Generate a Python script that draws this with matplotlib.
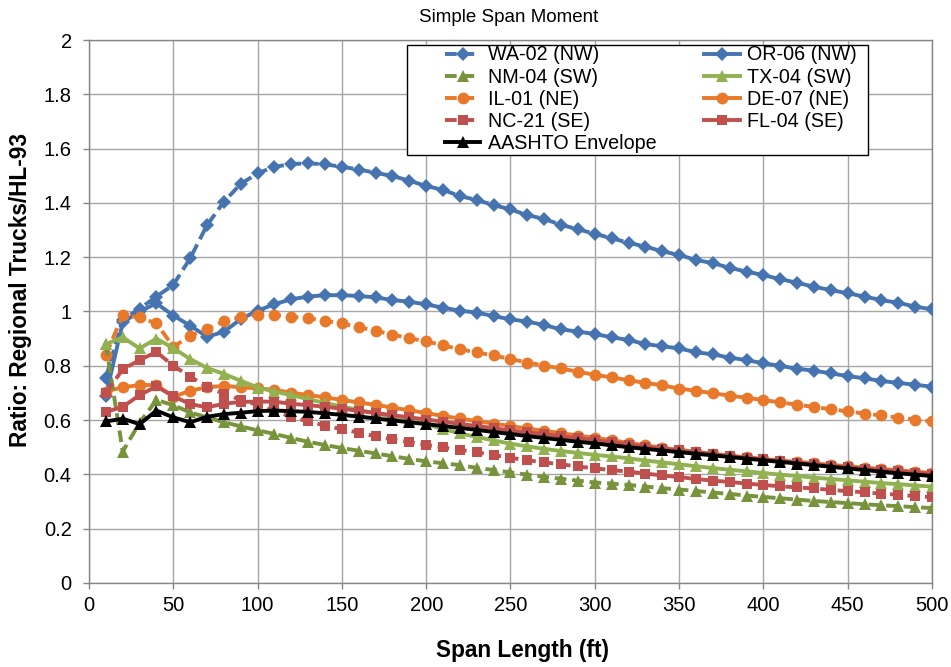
import numpy as np
import matplotlib
matplotlib.use('Agg')
import matplotlib.pyplot as plt
from matplotlib.patches import Rectangle

plt.rcParams['font.family'] = ['Liberation Sans', 'DejaVu Sans']

# span lengths (ft)
span = list(range(10, 510, 10))

wa02 = [0.755, 0.97, 1.01, 1.055, 1.098, 1.196, 1.318, 1.404, 1.47, 1.509,
        1.533, 1.543, 1.546, 1.542, 1.533, 1.523, 1.511, 1.499, 1.482, 1.462,
        1.448, 1.425, 1.411, 1.392, 1.376, 1.355, 1.341, 1.319, 1.303, 1.286,
        1.27, 1.253, 1.239, 1.222, 1.208, 1.19, 1.178, 1.161, 1.147, 1.134,
        1.119, 1.106, 1.091, 1.079, 1.067, 1.055, 1.042, 1.032, 1.018, 1.008]
or06 = [0.69, 0.96, 1.0, 1.03, 0.985, 0.948, 0.907, 0.925, 0.972, 1.003,
        1.027, 1.045, 1.055, 1.06, 1.06, 1.057, 1.052, 1.042, 1.036, 1.026,
        1.014, 1.003, 0.996, 0.983, 0.971, 0.963, 0.95, 0.934, 0.926, 0.917,
        0.905, 0.895, 0.88, 0.872, 0.864, 0.85, 0.842, 0.83, 0.821, 0.809,
        0.8, 0.789, 0.782, 0.772, 0.762, 0.754, 0.744, 0.737, 0.73, 0.723]
nm04 = [0.88, 0.484, 0.59, 0.674, 0.655, 0.628, 0.61, 0.592, 0.577, 0.562,
        0.549, 0.534, 0.52, 0.508, 0.497, 0.487, 0.477, 0.467, 0.457, 0.448,
        0.441, 0.434, 0.424, 0.416, 0.407, 0.399, 0.391, 0.384, 0.377, 0.37,
        0.366, 0.361, 0.355, 0.349, 0.344, 0.339, 0.333, 0.328, 0.322, 0.317,
        0.312, 0.307, 0.302, 0.298, 0.294, 0.29, 0.286, 0.283, 0.279, 0.276]
tx04 = [0.88, 0.905, 0.864, 0.9, 0.865, 0.825, 0.792, 0.77, 0.745, 0.72,
        0.705, 0.692, 0.677, 0.663, 0.65, 0.637, 0.625, 0.612, 0.6, 0.585,
        0.567, 0.551, 0.538, 0.525, 0.513, 0.503, 0.494, 0.486, 0.479, 0.472,
        0.466, 0.459, 0.451, 0.444, 0.437, 0.43, 0.423, 0.417, 0.411, 0.405,
        0.399, 0.394, 0.388, 0.383, 0.378, 0.373, 0.368, 0.364, 0.359, 0.355]
il01 = [0.84, 0.987, 0.978, 0.956, 0.87, 0.91, 0.936, 0.964, 0.981, 0.987,
        0.987, 0.981, 0.975, 0.966, 0.956, 0.942, 0.929, 0.915, 0.901, 0.89,
        0.875, 0.861, 0.849, 0.838, 0.825, 0.812, 0.801, 0.79, 0.778, 0.767,
        0.757, 0.747, 0.737, 0.728, 0.716, 0.708, 0.699, 0.69, 0.682, 0.674,
        0.665, 0.657, 0.648, 0.64, 0.632, 0.624, 0.617, 0.609, 0.602, 0.595]
de07 = [0.705, 0.721, 0.729, 0.729, 0.686, 0.708, 0.721, 0.726, 0.721, 0.717,
        0.711, 0.701, 0.692, 0.684, 0.674, 0.665, 0.656, 0.646, 0.636, 0.626,
        0.615, 0.606, 0.596, 0.587, 0.578, 0.569, 0.56, 0.552, 0.543, 0.535,
        0.526, 0.516, 0.507, 0.498, 0.49, 0.483, 0.476, 0.469, 0.463, 0.457,
        0.451, 0.446, 0.441, 0.435, 0.43, 0.425, 0.42, 0.415, 0.41, 0.405]
nc21 = [0.70, 0.787, 0.821, 0.851, 0.80, 0.76, 0.723, 0.697, 0.675, 0.656,
        0.634, 0.612, 0.595, 0.58, 0.566, 0.554, 0.54, 0.529, 0.519, 0.508,
        0.499, 0.49, 0.481, 0.471, 0.461, 0.452, 0.444, 0.437, 0.429, 0.422,
        0.416, 0.41, 0.403, 0.396, 0.39, 0.383, 0.377, 0.372, 0.366, 0.361,
        0.356, 0.352, 0.348, 0.343, 0.338, 0.334, 0.329, 0.325, 0.32, 0.316]
fl04 = [0.63, 0.649, 0.692, 0.724, 0.688, 0.659, 0.647, 0.66, 0.667, 0.668,
        0.668, 0.66, 0.655, 0.649, 0.642, 0.634, 0.626, 0.618, 0.61, 0.602,
        0.594, 0.586, 0.578, 0.57, 0.562, 0.555, 0.548, 0.54, 0.533, 0.526,
        0.518, 0.51, 0.502, 0.495, 0.488, 0.481, 0.474, 0.467, 0.461, 0.455,
        0.449, 0.443, 0.437, 0.431, 0.426, 0.421, 0.416, 0.411, 0.406, 0.401]
aashto = [0.595, 0.605, 0.585, 0.635, 0.61, 0.592, 0.612, 0.622, 0.627, 0.633,
          0.635, 0.633, 0.63, 0.625, 0.619, 0.613, 0.606, 0.599, 0.592, 0.585,
          0.578, 0.571, 0.564, 0.556, 0.549, 0.541, 0.534, 0.527, 0.52, 0.514,
          0.507, 0.5, 0.494, 0.488, 0.482, 0.476, 0.47, 0.464, 0.458, 0.452,
          0.446, 0.44, 0.434, 0.428, 0.422, 0.416, 0.41, 0.404, 0.399, 0.394]

blue = '#4674B0'
green_d = '#77933C'
green_s = '#92B151'
orange = '#E8782A'
red = '#C0504D'

dash = (0, (3.0, 1.5))

# label, data, color, linestyle, marker
series = [
    ('WA-02 (NW)', wa02, blue, dash, 'D'),
    ('NM-04 (SW)', nm04, green_d, dash, '^'),
    ('IL-01 (NE)', il01, orange, dash, 'o'),
    ('NC-21 (SE)', nc21, red, dash, 's'),
    ('AASHTO Envelope', aashto, 'black', '-', '^'),
    ('OR-06 (NW)', or06, blue, '-', 'D'),
    ('TX-04 (SW)', tx04, green_s, '-', '^'),
    ('DE-07 (NE)', de07, orange, '-', 'o'),
    ('FL-04 (SE)', fl04, red, '-', 's'),
]
msize = {'D': 7.0, 's': 7.0, 'o': 8.5, '^': 9.0}
# drawing order (bottom to top) roughly like the original
draw_order = [0, 5, 2, 7, 1, 6, 3, 8, 4]

fig = plt.figure(figsize=(9.51, 6.67), dpi=100)
ax = fig.add_axes([0.0936, 0.126, 0.8864, 0.814])

handles = {}
for k, i in enumerate(draw_order):
    lab, y, c, ls, m = series[i]
    ln, = ax.plot(span, y, color=c, linestyle=ls, linewidth=2.8, marker=m,
                  markersize=msize[m], markeredgewidth=0, label=lab, zorder=3 + k)
    handles[i] = ln

ax.set_xlim(0, 500)
ax.set_ylim(0, 2)
ax.set_xticks(np.arange(0, 501, 50))
ax.set_yticks(np.arange(0, 2.01, 0.2))
ax.set_yticklabels(['0', '0.2', '0.4', '0.6', '0.8', '1', '1.2', '1.4', '1.6', '1.8', '2'])
ax.grid(True, color='#A6A6A6', linewidth=1.0, zorder=0)
ax.set_axisbelow(True)
for s in ax.spines.values():
    s.set_color('#868686')
    s.set_linewidth(1.0)
ax.tick_params(axis='both', colors='#868686', labelcolor='black', labelsize=14.5,
               length=4.5, width=1, direction='out')
ax.tick_params(axis='x', pad=5)
ax.tick_params(axis='y', pad=8)

fig.text(509 / 951, 1 - 17 / 667, 'Simple Span Moment', fontsize=13.5,
         ha='center', va='center')
fig.text(522 / 951, 1 - 651 / 667, 'Span Length (ft)', fontsize=16.3,
         fontweight='bold', ha='center', va='center')
fig.text(21 / 951, 1 - 290 / 667, 'Ratio: Regional Trucks/HL-93', fontsize=16.3,
         fontweight='bold', ha='center', va='center', rotation=90)

# legend box drawn separately (Excel style: wide left margin)
ax.add_patch(Rectangle((0.3772, 0.7882), 0.5469, 0.2026, transform=ax.transAxes,
                       facecolor='white', edgecolor='black', linewidth=1.0,
                       zorder=19, clip_on=False))
leg = ax.legend([handles[i] for i in range(9)], [series[i][0] for i in range(9)],
                ncol=2, loc='upper left', bbox_to_anchor=(0.4223, 0.990),
                fontsize=14.2, frameon=False, handlelength=1.8,
                columnspacing=2.44, labelspacing=0.16, borderpad=0,
                handletextpad=0.36, borderaxespad=0)
leg.set_zorder(20)

plt.savefig('out.png', dpi=100)
